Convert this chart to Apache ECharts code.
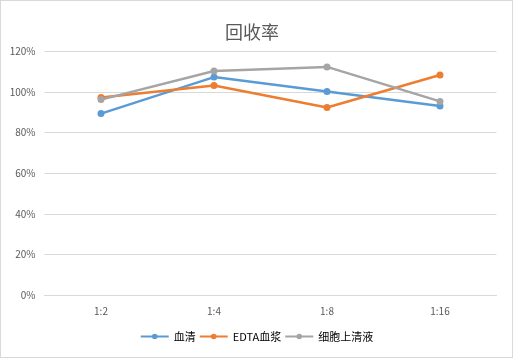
<!DOCTYPE html>
<html><head><meta charset="utf-8">
<script src="https://cdn.jsdelivr.net/npm/echarts@6/dist/echarts.min.js"></script>
<style>html,body{margin:0;padding:0;background:#fff}#c{width:513px;height:358px;box-sizing:border-box;border:1px solid #d9d9d9}</style>
</head><body><div id="c"></div>
<script>
const categories = ['1:2','1:4','1:8','1:16'];
const serum = [89.4, 107.4, 100.3, 93.1];
const edtaPlasma = [97.3, 103.2, 92.4, 108.4];
const cellSupernatant = [96.3, 110.4, 112.4, 95.4];
const seriesNames = ['血清','EDTA血浆','细胞上清液'];
const chart = echarts.init(document.getElementById('c'));
const font = '"Microsoft YaHei","Noto Sans CJK SC",sans-serif';
function mk(name, data, color){
  return {name, type:'line', data, symbol:'circle', symbolSize:7,
    lineStyle:{width:2.5,color}, itemStyle:{color}, emphasis:{disabled:true}};
}
chart.setOption({
  animation:false,
  title:{text:'回收率', left:219, top:17, textStyle:{fontSize:18, fontWeight:'normal', color:'#595959', fontFamily:font}},
  grid:{left:43.5, right:15.5, top:50.5, bottom:62},
  legend:{bottom:10, left:'center', itemGap:3, itemWidth:28, itemHeight:7, textStyle:{fontSize:11,color:'#000',fontFamily:font},
    data:seriesNames},
  xAxis:{type:'category', data:categories, axisTick:{show:false},
    axisLine:{lineStyle:{color:'#d9d9d9'}},
    axisLabel:{color:'#595959', fontSize:10, margin:11, fontFamily:font}},
  yAxis:{type:'value', min:0, max:120, interval:20,
    axisLabel:{formatter:'{value}%', color:'#595959', fontSize:10, margin:9, fontFamily:font},
    splitLine:{lineStyle:{color:'#d9d9d9'}}, axisLine:{show:false}},
  series:[mk(seriesNames[0], serum, '#5b9bd5'), mk(seriesNames[1], edtaPlasma, '#ed7d31'), mk(seriesNames[2], cellSupernatant, '#a5a5a5')]
});
</script></body></html>
